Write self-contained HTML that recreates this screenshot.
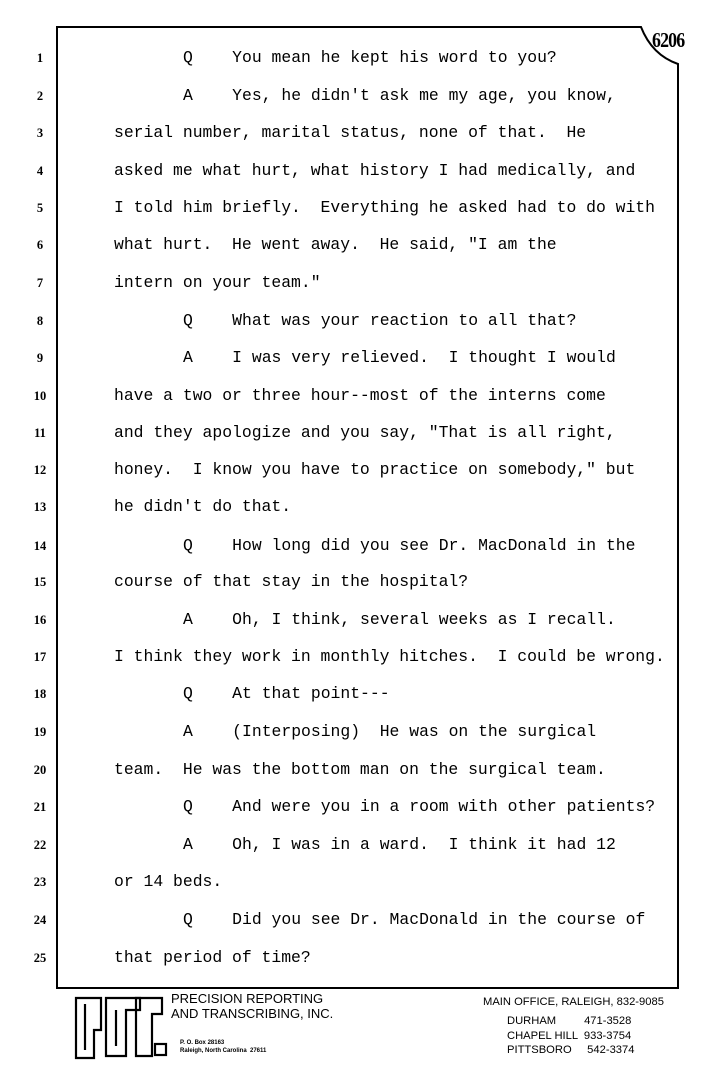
<!DOCTYPE html>
<html><head><meta charset="utf-8"><style>
html,body{margin:0;padding:0;background:#fff;}
body{width:720px;height:1065px;position:relative;overflow:hidden;}
.n{position:absolute;left:28px;width:24px;text-align:center;font-family:"Liberation Serif",serif;font-weight:bold;font-size:12.5px;color:#000;}
.t{position:absolute;font-family:"Liberation Mono",monospace;font-size:16.4px;color:#000;white-space:pre;line-height:20px;}
.f{position:absolute;font-family:"Liberation Sans",sans-serif;color:#000;white-space:pre;}
</style></head><body>
<svg width="720" height="1065" style="position:absolute;left:0;top:0">
<path d="M57,988 L57,27 L641,27 Q652,55 678,64 L678,988 Z" fill="none" stroke="#000" stroke-width="2"/>
<g fill="none" stroke="#000" stroke-width="2.2">
<path d="M76,998 H101 V1030 H94 V1058 H76 Z"/>
<path d="M85,1004 V1050"/>
<path d="M106,998 H140 V1010 H126 V1056 H106 Z"/>
<path d="M116,1010 V1046"/>
<path d="M136,998 H162 V1014 H152 V1056 H136 Z"/>
<rect x="155" y="1044" width="11" height="11"/>
</g>
</svg>
<div class="f" style="left:652px;top:28px;font-family:'Liberation Serif',serif;font-weight:bold;font-size:21px;letter-spacing:-1px;transform:scaleX(0.85);transform-origin:left">6206</div>
<div class="n" style="top:51px">1</div><div class="n" style="top:89px">2</div><div class="n" style="top:126px">3</div><div class="n" style="top:164px">4</div><div class="n" style="top:201px">5</div><div class="n" style="top:238px">6</div><div class="n" style="top:276px">7</div><div class="n" style="top:314px">8</div><div class="n" style="top:351px">9</div><div class="n" style="top:389px">10</div><div class="n" style="top:426px">11</div><div class="n" style="top:463px">12</div><div class="n" style="top:500px">13</div><div class="n" style="top:539px">14</div><div class="n" style="top:575px">15</div><div class="n" style="top:613px">16</div><div class="n" style="top:650px">17</div><div class="n" style="top:687px">18</div><div class="n" style="top:725px">19</div><div class="n" style="top:763px">20</div><div class="n" style="top:800px">21</div><div class="n" style="top:838px">22</div><div class="n" style="top:875px">23</div><div class="n" style="top:913px">24</div><div class="n" style="top:951px">25</div>
<div class="t" style="left:183px;top:48px">Q    You mean he kept his word to you?</div>
<div class="t" style="left:183px;top:86px">A    Yes, he didn't ask me my age, you know,</div>
<div class="t" style="left:114px;top:123px">serial number, marital status, none of that.  He</div>
<div class="t" style="left:114px;top:161px">asked me what hurt, what history I had medically, and</div>
<div class="t" style="left:114px;top:198px">I told him briefly.  Everything he asked had to do with</div>
<div class="t" style="left:114px;top:235px">what hurt.  He went away.  He said, "I am the</div>
<div class="t" style="left:114px;top:273px">intern on your team."</div>
<div class="t" style="left:183px;top:311px">Q    What was your reaction to all that?</div>
<div class="t" style="left:183px;top:348px">A    I was very relieved.  I thought I would</div>
<div class="t" style="left:114px;top:386px">have a two or three hour--most of the interns come</div>
<div class="t" style="left:114px;top:423px">and they apologize and you say, "That is all right,</div>
<div class="t" style="left:114px;top:460px">honey.  I know you have to practice on somebody," but</div>
<div class="t" style="left:114px;top:497px">he didn't do that.</div>
<div class="t" style="left:183px;top:536px">Q    How long did you see Dr. MacDonald in the</div>
<div class="t" style="left:114px;top:572px">course of that stay in the hospital?</div>
<div class="t" style="left:183px;top:610px">A    Oh, I think, several weeks as I recall.</div>
<div class="t" style="left:114px;top:647px">I think they work in monthly hitches.  I could be wrong.</div>
<div class="t" style="left:183px;top:684px">Q    At that point---</div>
<div class="t" style="left:183px;top:722px">A    (Interposing)  He was on the surgical</div>
<div class="t" style="left:114px;top:760px">team.  He was the bottom man on the surgical team.</div>
<div class="t" style="left:183px;top:797px">Q    And were you in a room with other patients?</div>
<div class="t" style="left:183px;top:835px">A    Oh, I was in a ward.  I think it had 12</div>
<div class="t" style="left:114px;top:872px">or 14 beds.</div>
<div class="t" style="left:183px;top:910px">Q    Did you see Dr. MacDonald in the course of</div>
<div class="t" style="left:114px;top:948px">that period of time?</div>
<div class="f" style="left:171px;top:991px;font-size:13px;line-height:15px">PRECISION REPORTING
AND TRANSCRIBING, INC.</div>
<div class="f" style="left:180px;top:1039px;font-size:6px;line-height:8px;font-weight:bold">P. O. Box 28163
Raleigh, North Carolina  27611</div>
<div class="f" style="left:483px;top:996px;font-size:11.2px">MAIN OFFICE, RALEIGH, 832-9085</div>
<div class="f" style="left:507px;top:1014px;font-size:11.2px;line-height:14.5px">DURHAM         471-3528
CHAPEL HILL  933-3754
PITTSBORO     542-3374</div>
</body></html>
